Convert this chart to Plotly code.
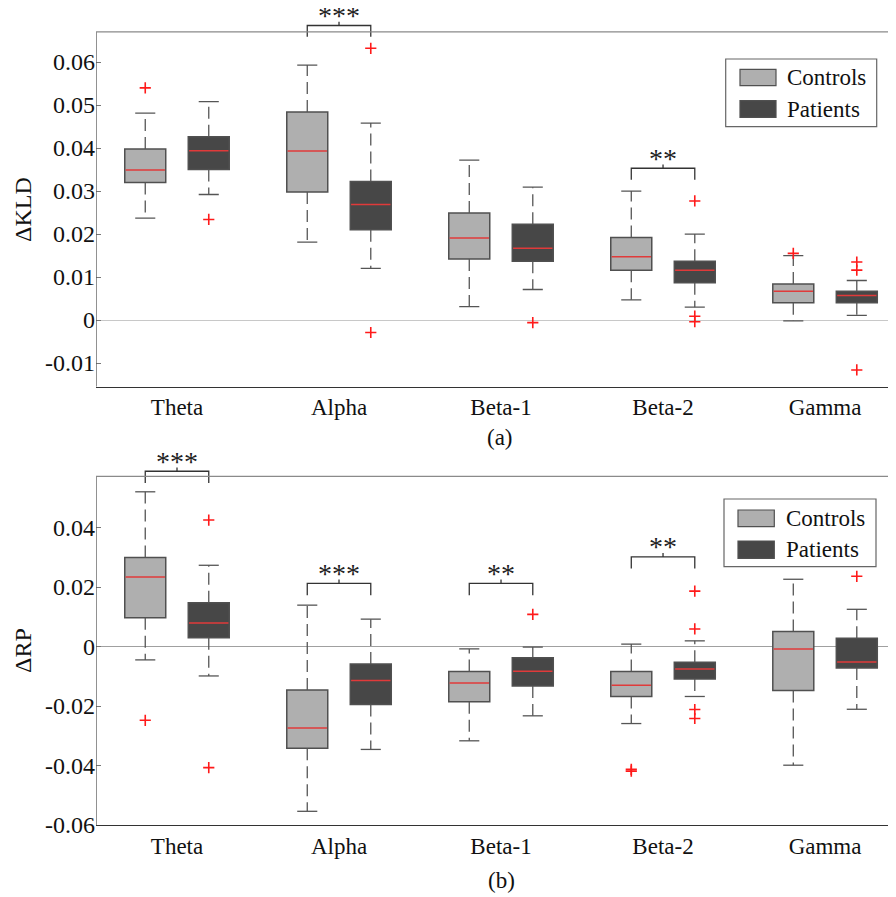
import plotly.graph_objects as go

# ---------------- data ----------------
bands = ["Theta", "Alpha", "Beta-1", "Beta-2", "Gamma"]
band_pos = [1, 2, 3, 4, 5]

# (a) Delta KLD
kld_ctrl_upper = [0.0481, 0.0593, 0.0372, 0.0300, 0.0150]
kld_ctrl_q3 = [0.0398, 0.0484, 0.0249, 0.0192, 0.0084]
kld_ctrl_med = [0.0349, 0.0393, 0.0191, 0.0147, 0.0067]
kld_ctrl_q1 = [0.0320, 0.0298, 0.0142, 0.0116, 0.0040]
kld_ctrl_lower = [0.0237, 0.0181, 0.0031, 0.0047, -0.0002]
kld_ctrl_out = [[0.0540], [], [], [], [0.0155]]

kld_pat_upper = [0.0508, 0.0458, 0.0309, 0.0200, 0.0092]
kld_pat_q3 = [0.0426, 0.0322, 0.0223, 0.0137, 0.0067]
kld_pat_med = [0.0394, 0.0269, 0.0167, 0.0116, 0.0057]
kld_pat_q1 = [0.0350, 0.0210, 0.0137, 0.0087, 0.0040]
kld_pat_lower = [0.0292, 0.0120, 0.0071, 0.0030, 0.0011]
kld_pat_out = [[0.0234], [0.0632, -0.0029], [-0.0006], [0.0277, 0.0009, -0.0004], [0.0135, 0.0116, -0.0116]]

kld_sig_band = ["Alpha", "Beta-2"]
kld_sig_text = ["***", "**"]
kld_sig_level = [0.0685, 0.0353]
kld_sig_leg = [0.0659, 0.0326]

kld_ticks = [-0.01, 0, 0.01, 0.02, 0.03, 0.04, 0.05, 0.06]
kld_ticktext = ["-0.01", "0", "0.01", "0.02", "0.03", "0.04", "0.05", "0.06"]
kld_ylim = [-0.0155, 0.067]

# (b) Delta RP
rp_ctrl_upper = [0.0520, 0.0139, -0.0008, 0.0008, 0.0226]
rp_ctrl_q3 = [0.0299, -0.0146, -0.0084, -0.0084, 0.0050]
rp_ctrl_med = [0.0234, -0.0274, -0.0123, -0.0130, -0.0008]
rp_ctrl_q1 = [0.0097, -0.0342, -0.0186, -0.0168, -0.0148]
rp_ctrl_lower = [-0.0045, -0.0554, -0.0317, -0.0259, -0.0399]
rp_ctrl_out = [[-0.0248], [], [], [-0.0413, -0.0419], []]

rp_pat_upper = [0.0273, 0.0092, -0.0002, 0.0019, 0.0125]
rp_pat_q3 = [0.0147, -0.0059, -0.0038, -0.0053, 0.0028]
rp_pat_med = [0.0079, -0.0114, -0.0083, -0.0076, -0.0052]
rp_pat_q1 = [0.0029, -0.0195, -0.0133, -0.0109, -0.0072]
rp_pat_lower = [-0.0099, -0.0346, -0.0233, -0.0168, -0.0211]
rp_pat_out = [[0.0425, -0.0407], [], [0.0108], [0.0186, 0.0059, -0.0212, -0.0242], [0.0236]]

rp_sig_band = ["Theta", "Alpha", "Beta-1", "Beta-2"]
rp_sig_text = ["***", "***", "**", "**"]
rp_sig_level = [0.0589, 0.0212, 0.0212, 0.0301]
rp_sig_leg = [0.0550, 0.0172, 0.0172, 0.0262]

rp_ticks = [-0.06, -0.04, -0.02, 0, 0.02, 0.04]
rp_ticktext = ["-0.06", "-0.04", "-0.02", "0", "0.02", "0.04"]
rp_ylim = [-0.06, 0.0572]

group_names = ["Controls", "Patients"]

# ---------------- style ----------------
PAGE_PAD = 8                 # default body margin of the html page
W, H = 896 - PAGE_PAD, 897 - PAGE_PAD
FONT = "Liberation Serif, Times New Roman, serif"
CTRL_COLOR = "#afafaf"
PAT_COLOR = "#474747"
EDGE = "#505050"
MED = "#e03a3a"
WHISK = "#555555"
OFF = 0.196        # half distance between paired boxes (axis units)
BOXW = 0.253
CAPH = 0.062
XRANGE = [0.5, 5.438]


def px_x(p):
    return (p - PAGE_PAD) / W


def px_y(p):
    return 1 - (p - PAGE_PAD) / H


fig = go.Figure()


def add_group(xa, ya, centers, upper, q3, med, q1, lower, outs, color):
    xs = [c for c in centers]
    fig.add_trace(go.Bar(x=xs, y=[b - a for a, b in zip(q1, q3)], base=q1,
                         width=BOXW, marker=dict(color=color, line=dict(color=EDGE, width=1.5)),
                         xaxis=xa, yaxis=ya, showlegend=False, hoverinfo="skip"))
    # whiskers (dashed)
    wx, wy = [], []
    for c, u, t, b, lo in zip(xs, upper, q3, q1, lower):
        wx += [c, c, None, c, c, None]
        wy += [t, u, None, b, lo, None]
    fig.add_trace(go.Scatter(x=wx, y=wy, mode="lines", line=dict(color=WHISK, width=1.3, dash="12px,6px"),
                             xaxis=xa, yaxis=ya, showlegend=False, hoverinfo="skip"))
    # caps
    cx, cy = [], []
    for c, u, lo in zip(xs, upper, lower):
        cx += [c - CAPH, c + CAPH, None, c - CAPH, c + CAPH, None]
        cy += [u, u, None, lo, lo, None]
    fig.add_trace(go.Scatter(x=cx, y=cy, mode="lines", line=dict(color=WHISK, width=1.3),
                             xaxis=xa, yaxis=ya, showlegend=False, hoverinfo="skip"))
    # medians
    mx, my = [], []
    for c, m in zip(xs, med):
        mx += [c - BOXW / 2 + 0.005, c + BOXW / 2 - 0.005, None]
        my += [m, m, None]
    fig.add_trace(go.Scatter(x=mx, y=my, mode="lines", line=dict(color=MED, width=1.5),
                             xaxis=xa, yaxis=ya, showlegend=False, hoverinfo="skip"))
    # outliers
    ox, oy = [], []
    for c, o in zip(xs, outs):
        for v in o:
            ox.append(c)
            oy.append(v)
    fig.add_trace(go.Scatter(x=ox, y=oy, mode="markers",
                             marker=dict(symbol="cross-thin", size=8, line=dict(color="#ff1a1a", width=1.6)),
                             xaxis=xa, yaxis=ya, showlegend=False, hoverinfo="skip", cliponaxis=False))


def add_sig(xa, ya, sband, stext, slevel, sleg, tick):
    for b, t, lev, leg in zip(sband, stext, slevel, sleg):
        g = band_pos[bands.index(b)]
        x0, x1 = g - OFF, g + OFF
        fig.add_trace(go.Scatter(x=[x0, x0, x1, x1, None, g, g], y=[leg, lev, lev, leg, None, lev, lev + tick],
                                 mode="lines", line=dict(color="#333333", width=1.3),
                                 xaxis=xa, yaxis=ya, showlegend=False, hoverinfo="skip"))
        fig.add_annotation(x=g, y=lev, xref=xa, yref=ya, text=t, showarrow=False,
                           xanchor="center", yanchor="middle", yshift=10,
                           font=dict(family=FONT, size=28, color="#222222"))


ctrl_x = [g - OFF for g in band_pos]
pat_x = [g + OFF for g in band_pos]

add_group("x", "y", ctrl_x, kld_ctrl_upper, kld_ctrl_q3, kld_ctrl_med, kld_ctrl_q1, kld_ctrl_lower, kld_ctrl_out, CTRL_COLOR)
add_group("x", "y", pat_x, kld_pat_upper, kld_pat_q3, kld_pat_med, kld_pat_q1, kld_pat_lower, kld_pat_out, PAT_COLOR)
add_sig("x", "y", kld_sig_band, kld_sig_text, kld_sig_level, kld_sig_leg, 0.0009)

add_group("x2", "y2", ctrl_x, rp_ctrl_upper, rp_ctrl_q3, rp_ctrl_med, rp_ctrl_q1, rp_ctrl_lower, rp_ctrl_out, CTRL_COLOR)
add_group("x2", "y2", pat_x, rp_pat_upper, rp_pat_q3, rp_pat_med, rp_pat_q1, rp_pat_lower, rp_pat_out, PAT_COLOR)
add_sig("x2", "y2", rp_sig_band, rp_sig_text, rp_sig_level, rp_sig_leg, 0.0013)

# ---------------- axes ----------------
top_bot_px, top_top_px = 386.7, float(PAGE_PAD)
bot_bot_px, bot_top_px = 825.0, 448.0
kld_pxu = 4300.0
rp_pxu = 2975.0
kld_range = [kld_ylim[0], kld_ylim[0] + (top_bot_px - top_top_px) / kld_pxu]
rp_range = [rp_ylim[0], rp_ylim[0] + (bot_bot_px - bot_top_px) / rp_pxu]

xcommon = dict(range=XRANGE, tickvals=band_pos, ticktext=bands, showgrid=False, zeroline=False,
               showline=True, linecolor="#333333", linewidth=1.3, ticks="", automargin=False,
               tickfont=dict(family=FONT, size=23, color="#111111"), domain=[px_x(96), 1.0])
ycommon = dict(showgrid=False, zeroline=True, zerolinewidth=1, showline=False, automargin=False,
               ticks="inside", ticklen=5, tickcolor="#777777", tickwidth=1, mirror="ticks",
               tickfont=dict(family=FONT, size=24, color="#111111"))

fig.update_layout(
    width=W, height=H,
    margin=dict(l=0, r=0, t=0, b=0, autoexpand=False),
    paper_bgcolor="white", plot_bgcolor="white",
    barmode="overlay",
    showlegend=False,
    xaxis=dict(**xcommon, anchor="y"),
    yaxis=dict(**ycommon, range=kld_range, tickvals=kld_ticks, ticktext=kld_ticktext,
               zerolinecolor="#c8c8c8", domain=[px_y(top_bot_px), min(1.0, px_y(top_top_px))], anchor="x"),
    xaxis2=dict(**xcommon, anchor="y2"),
    yaxis2=dict(**ycommon, range=rp_range, tickvals=rp_ticks, ticktext=rp_ticktext,
                zerolinecolor="#a0a0a0", domain=[px_y(bot_bot_px), px_y(bot_top_px)], anchor="x2"),
)

# frame lines (left and top) at the axis limits
for xa, ya, lim in (("x", "y", kld_ylim), ("x2", "y2", rp_ylim)):
    fig.add_shape(type="line", xref=xa, yref=ya, x0=XRANGE[0], x1=XRANGE[0], y0=lim[0], y1=lim[1],
                  line=dict(color="#555555", width=1.3))
    fig.add_shape(type="line", xref=xa, yref=ya, x0=XRANGE[0], x1=XRANGE[1], y0=lim[1], y1=lim[1],
                  line=dict(color="#8a8a8a", width=1.3))

# axis titles and panel labels
label_font = dict(family=FONT, size=24, color="#111111")
fig.add_annotation(x=px_x(23), y=px_y(210), xref="paper", yref="paper", text="ΔKLD", textangle=-90,
                   xanchor="center", yanchor="middle", showarrow=False, font=label_font)
fig.add_annotation(x=px_x(23), y=px_y(651), xref="paper", yref="paper", text="ΔRP", textangle=-90,
                   xanchor="center", yanchor="middle", showarrow=False, font=label_font)
fig.add_annotation(x=px_x(500), y=px_y(438), xref="paper", yref="paper", text="(a)",
                   xanchor="center", yanchor="middle", showarrow=False,
                   font=dict(family=FONT, size=23, color="#111111"))
fig.add_annotation(x=px_x(501), y=px_y(880), xref="paper", yref="paper", text="(b)",
                   xanchor="center", yanchor="middle", showarrow=False,
                   font=dict(family=FONT, size=23, color="#111111"))

# manual legends (box, swatches, labels)
legends = [
    dict(box=(725.7, 59, 876.7, 126.7), sw=[(740, 69.3, 776, 85.7), (740, 100.7, 776, 117.3)], tx=785),
    dict(box=(724, 499, 876, 566.7), sw=[(738, 510, 774.3, 526.7), (738, 541, 774.3, 558.3)], tx=783.5),
]
for lg in legends:
    x0, y0, x1, y1 = lg["box"]
    fig.add_shape(type="rect", xref="paper", yref="paper", x0=px_x(x0), x1=px_x(x1), y0=px_y(y1), y1=px_y(y0),
                  line=dict(color="#666666", width=1.2), fillcolor="white", layer="above")
    for (sx0, sy0, sx1, sy1), col, name in zip(lg["sw"], [CTRL_COLOR, PAT_COLOR], group_names):
        fig.add_shape(type="rect", xref="paper", yref="paper", x0=px_x(sx0), x1=px_x(sx1),
                      y0=px_y(sy1), y1=px_y(sy0), line=dict(color=EDGE, width=1.2), fillcolor=col, layer="above")
        fig.add_annotation(x=px_x(lg["tx"]), y=px_y((sy0 + sy1) / 2), xref="paper", yref="paper", text=name,
                           xanchor="left", yanchor="middle", showarrow=False,
                           font=dict(family=FONT, size=23, color="#111111"))

fig.write_html("out.html")
